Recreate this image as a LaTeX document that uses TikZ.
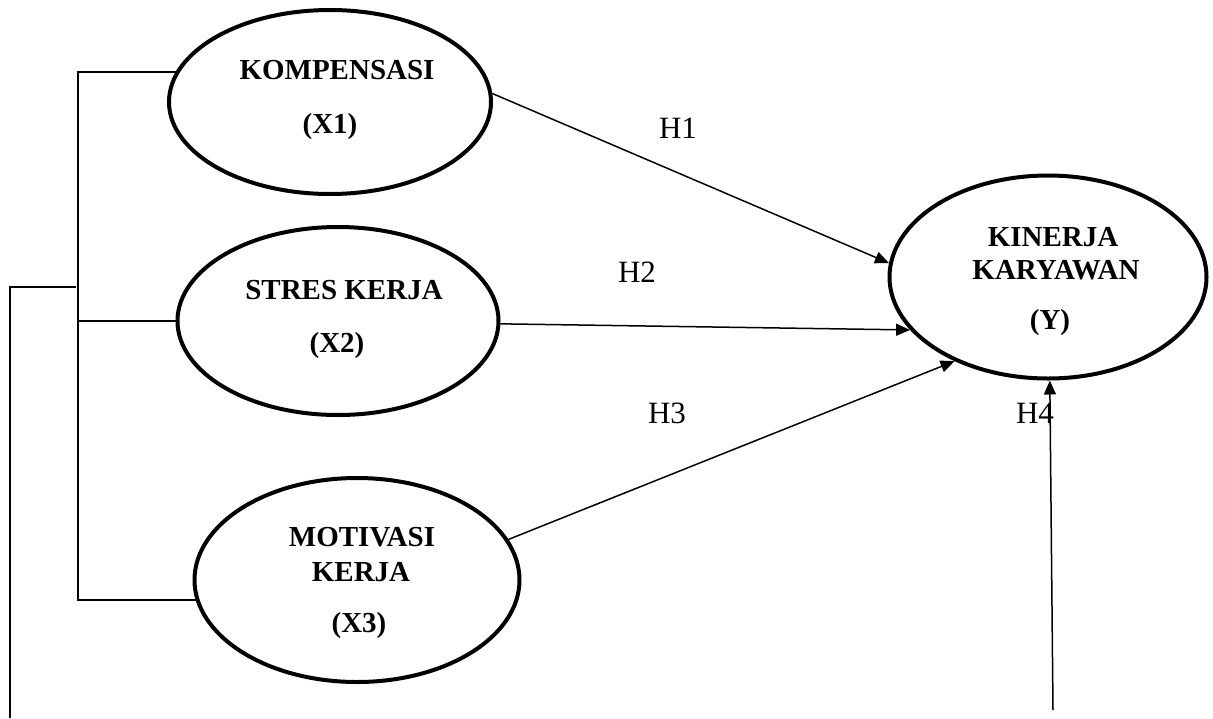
\documentclass[tikz,border=0pt]{standalone}
\usepackage{fontspec}
\setmainfont{Liberation Serif}
\usetikzlibrary{shapes.geometric,arrows.meta}
\begin{document}
\begin{tikzpicture}[x=1pt,y=-1pt,
  latent/.style={draw, ellipse, line width=4pt, inner sep=0pt},
  lbl/.style={font=\fontsize{29}{31}\selectfont\bfseries, inner sep=0pt},
  hyp/.style={font=\fontsize{31}{33}\selectfont, inner sep=0pt},
  conn/.style={line width=1.5pt},
  arr/.style={line width=1.5pt, -{Triangle[length=14pt,width=12pt]}}]
\useasboundingbox (0,0) rectangle (1213,718);

% latent variables
\node[latent, minimum width=322pt, minimum height=184pt] (x1) at (330,102) {};
\node[latent, minimum width=321pt, minimum height=188pt] (x2) at (338,321) {};
\node[latent, minimum width=325pt, minimum height=204pt] (x3) at (357,580) {};
\node[latent, minimum width=317pt, minimum height=203pt] (y) at (1048,277) {};

% texts
\node[lbl] (t1a) at (337,70) {KOMPENSASI};
\node[lbl] (t1b) at (330,127) {(X1)};
\node[lbl] (t2a) at (344,290) {STRES KERJA};
\node[lbl] (t2b) at (337,346) {(X2)};
\node[lbl] (t3a) at (362,537) {MOTIVASI};
\node[lbl] (t3b) at (361,572) {KERJA};
\node[lbl] (t3c) at (359,626) {(X3)};
\node[lbl] (tya) at (1053,237) {KINERJA};
\node[lbl] (tyb) at (1056,270) {KARYAWAN};
\node[lbl] (tyc) at (1050,323) {(Y)};

% bracket joining the exogenous variables
\coordinate (brk) at (78,73);
\draw[conn] (x1.169) -- (x1.169 -| brk) -- (x3.187 -| brk) -- (x3.187);
\draw[conn] (x2.west -| brk) -- (x2.west);
\coordinate (f1) at (76,287);
\coordinate (f2) at (10,287);
\coordinate (f3) at (10,718);
\draw[conn] (f1) -- (f2) -- (f3);

% hypotheses
\draw[arr] (x1.3) -- (y.175);
\draw[arr] (x2.-1) -- (y.201);
\draw[arr] (x3.15) -- (y.222);
\coordinate (h4s) at (1053,710);
\draw[arr] (h4s) -- (y.-89);

\node[hyp] (h1) at (678,128) {H1};
\node[hyp] (h2) at (637,272) {H2};
\node[hyp] (h3) at (667,413) {H3};
\node[hyp] (h4) at (1035,413) {H4};
\end{tikzpicture}
\end{document}
